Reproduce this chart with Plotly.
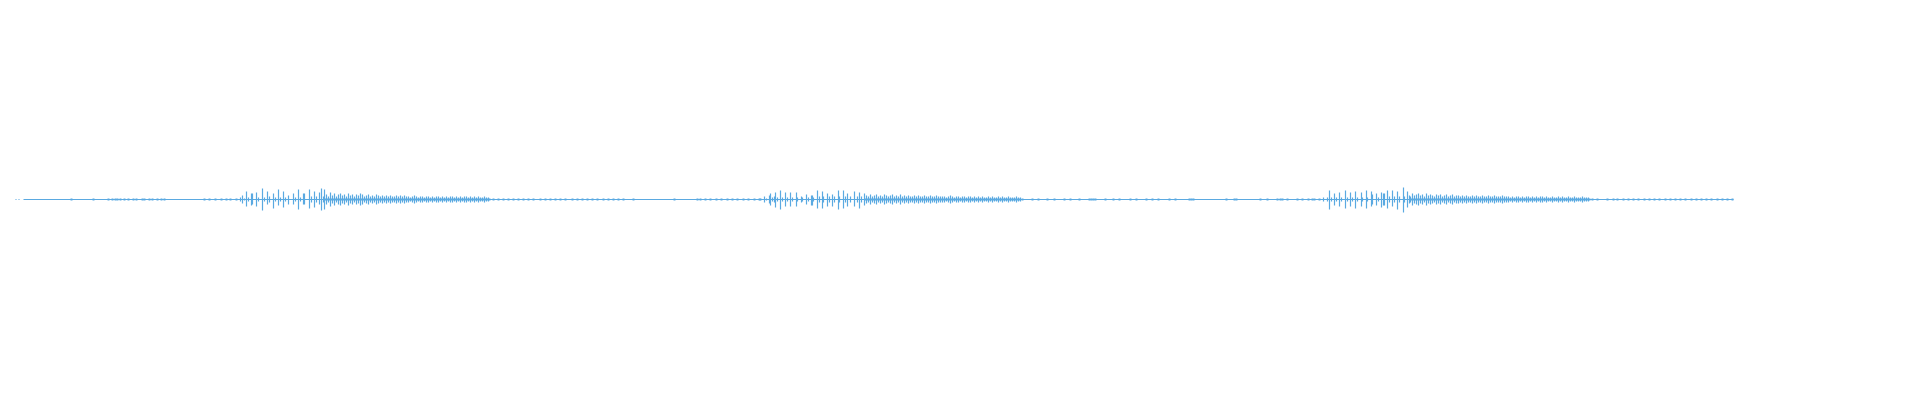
import plotly.graph_objects as go

# ---------------- data (pixel-time units, amplitude in px) ----------------
wave_segments = [(15, 16), (18, 19), (23, 1733)]   # silent floor of the waveform

# utterance 1 : strong pulses
u1_x  = [240, 242, 244, 246, 248, 251, 252, 256, 258, 262, 264, 267, 269, 273, 275, 278, 280,
         283, 285, 288, 293, 295, 298, 300, 303, 304, 309, 311, 314, 316, 319, 321, 323, 324]
u1_up = [2, 4, 1, 8, 2, 6, 6, 7, 2, 11, 2, 8, 3, 6, 2, 10, 2,
         8, 2, 4, 6, 2, 10, 2, 6, 6, 10, 3, 8, 3, 7, 11, 3, 10]
u1_dn = [2, 4, 1, 7, 2, 6, 5, 7, 2, 11, 2, 5, 3, 9, 2, 6, 2,
         8, 2, 5, 5, 2, 10, 2, 5, 5, 9, 3, 8, 3, 5, 11, 3, 10]
u1_dense_start = 326
u1_dense_amp = [5, 3, 7, 4, 6, 3, 5, 6, 4, 5, 3, 6, 4, 5, 3, 5, 4, 6,
                5, 3, 4, 5, 3, 4, 3, 5, 4, 3, 4, 3, 4, 3, 4, 3, 3, 4, 3, 4,
                3, 4, 3, 3, 2, 3, 4, 3, 2, 3, 3, 2, 3, 3, 2, 3, 2, 3, 3, 2,
                3, 2, 3, 2, 3, 3, 2, 3, 2, 3, 2, 3, 3, 2, 3, 2, 3, 2, 3, 2, 2, 3, 2, 2]
u1_band = (324, 490)

# utterance 2
u2_x  = [764, 766, 769, 770, 772, 774, 775, 777, 780, 782, 785, 787, 790, 792, 796, 797, 801, 802,
         806, 808, 811, 812, 813, 817, 819, 822, 823, 827, 829, 832, 834, 838, 839, 843, 845, 847,
         850, 854, 857, 859, 861, 864]
u2_up = [3, 1, 4, 6, 2, 3, 7, 2, 9, 2, 7, 2, 7, 2, 7, 2, 3, 2,
         5, 2, 4, 4, 2, 9, 3, 8, 3, 6, 3, 5, 3, 9, 3, 9, 3, 6,
         3, 8, 3, 7, 3, 6]
u2_dn = [3, 1, 4, 6, 2, 3, 8, 2, 10, 2, 7, 2, 7, 2, 7, 2, 3, 2,
         5, 2, 6, 6, 2, 9, 3, 9, 3, 7, 3, 7, 3, 10, 3, 9, 3, 7,
         3, 7, 3, 9, 3, 6]
u2_dense_start = 866
u2_dense_amp = [4, 3, 5, 3, 4, 5, 3, 4, 3, 5, 4, 3, 4, 5, 3, 4, 3, 5, 3, 4, 3,
                4, 3, 3, 4, 3, 4, 3, 3, 4, 3, 3, 4, 3, 3, 4, 3, 3,
                3, 3, 2, 3, 4, 3, 2, 3, 3, 2, 3, 3, 2, 3, 3, 2, 3,
                2, 3, 2, 3, 2, 2, 3, 2, 3, 2, 2, 3, 2, 3, 2, 2, 3, 2, 2, 2, 3, 2, 2]
u2_band = (864, 1020)

# utterance 3
u3_x  = [1323, 1327, 1329, 1331, 1334, 1336, 1339, 1341, 1345, 1347, 1350, 1352, 1355, 1357, 1361,
         1362, 1366, 1367, 1371, 1372, 1376, 1378, 1381, 1383, 1384, 1387, 1389, 1392, 1394, 1397,
         1399, 1403, 1404, 1407, 1409, 1410]
u3_up = [2, 2, 9, 2, 6, 2, 7, 2, 9, 2, 7, 2, 8, 2, 7,
         2, 9, 2, 8, 5, 6, 2, 7, 6, 6, 9, 3, 9, 3, 8,
         3, 12, 3, 8, 4, 3]
u3_dn = [2, 2, 10, 2, 6, 2, 7, 2, 9, 2, 7, 2, 9, 2, 7,
         2, 9, 2, 7, 5, 6, 2, 8, 6, 6, 9, 3, 7, 3, 10,
         3, 13, 3, 8, 4, 3]
u3_dense_start = 1412
u3_dense_amp = [6, 4, 5, 6, 4, 5, 3, 6, 4, 5, 4, 3, 5, 4, 5, 3, 4, 5, 3, 4, 5, 3, 4, 4, 3,
                4, 3, 4, 3, 3, 4, 3, 4, 3, 3, 4, 3, 3, 4, 3, 3, 4, 3, 3, 3, 4, 3, 3, 3, 2,
                3, 2, 3, 3, 2, 3, 2, 3, 3, 2, 3, 2, 3, 2, 3, 3, 2, 3, 2, 2,
                3, 2, 2, 3, 2, 3, 2, 2, 3, 2, 2, 3, 2, 2, 2, 3, 2, 2, 2]
u3_band = (1410, 1590)

# faint isolated ticks (about +-1 px)
tick_x = [71, 93, 108, 112, 115, 117, 120, 124, 128, 133, 136, 142, 144, 149, 152, 157, 161, 164,
          204, 209, 215, 221, 226, 230, 236,
          493, 498, 503, 508, 513, 518, 523, 528, 533, 540, 545, 550, 555, 560, 565, 572, 577,
          582, 587, 592, 597, 603, 608, 613, 618, 623, 633,
          674, 697, 700, 705, 710, 716, 721, 727, 732, 737, 743, 748, 754, 759, 760,
          1022, 1032, 1038, 1047, 1054, 1064, 1070, 1079, 1089, 1091, 1093, 1095, 1105, 1113, 1119,
          1130, 1136, 1146, 1152, 1158, 1169, 1175, 1189, 1191, 1193, 1226, 1234, 1236, 1260, 1267,
          1277, 1280, 1282, 1287, 1297, 1302, 1308, 1312, 1314, 1319,
          1592, 1597, 1607, 1613, 1617, 1623, 1628, 1633, 1638, 1644, 1649, 1654, 1659, 1665, 1670,
          1675, 1680, 1685, 1691, 1696, 1701, 1706, 1711, 1717, 1722, 1727, 1732]

COLOR = "#5aa9e1"

# ---------------- build geometry ----------------
bx, by = [], []
def add_bars(xs, ups, dns):
    for x, u, d in zip(xs, ups, dns):
        bx.extend([x, x, None])
        by.extend([-d, u, None])

for xs, ups, dns in [(u1_x, u1_up, u1_dn), (u2_x, u2_up, u2_dn), (u3_x, u3_up, u3_dn)]:
    add_bars(xs, ups, dns)
for start, amps in [(u1_dense_start, u1_dense_amp), (u2_dense_start, u2_dense_amp),
                    (u3_dense_start, u3_dense_amp)]:
    xs = [start + 2 * i for i in range(len(amps))]
    add_bars(xs, amps, amps)

lx, ly = [], []
for a, b in wave_segments:
    lx.extend([a, b, None]); ly.extend([0, 0, None])

tx, ty = [], []
for x in tick_x:
    tx.extend([x, x, None]); ty.extend([-1, 1, None])

fig = go.Figure()
for a, b in [u1_band, u2_band, u3_band]:
    fig.add_trace(go.Scatter(x=[a, b, b, a, a], y=[-1, -1, 1, 1, -1], fill="toself",
                             fillcolor=COLOR, line=dict(width=0), mode="lines",
                             hoverinfo="skip", showlegend=False))
fig.add_trace(go.Scatter(x=lx, y=ly, mode="lines", line=dict(color=COLOR, width=1),
                         hoverinfo="skip", showlegend=False))
fig.add_trace(go.Scatter(x=tx, y=ty, mode="lines", line=dict(color=COLOR, width=2),
                         hoverinfo="skip", showlegend=False))
fig.add_trace(go.Scatter(x=bx, y=by, mode="lines", line=dict(color=COLOR, width=1.2),
                         hoverinfo="skip", showlegend=False))

fig.update_layout(
    width=1920, height=400,
    margin=dict(l=0, r=0, t=0, b=0),
    paper_bgcolor="white", plot_bgcolor="white",
    xaxis=dict(range=[-0.5, 1919.5], visible=False, showgrid=False, zeroline=False, fixedrange=True),
    yaxis=dict(range=[-200.5, 199.5], visible=False, showgrid=False, zeroline=False, fixedrange=True),
)
fig.write_html("out.html", config={"displayModeBar": False},
               post_script="document.body.style.margin='0';document.body.style.overflow='hidden';")
